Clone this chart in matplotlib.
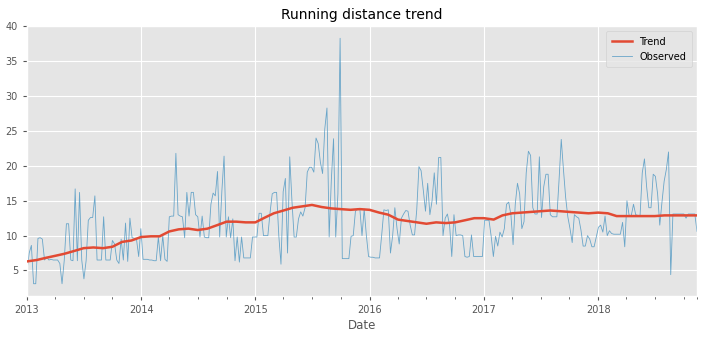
import numpy as np
import pandas as pd
import matplotlib
matplotlib.use('Agg')
import matplotlib.pyplot as plt
import matplotlib.dates as mdates

plt.style.use('ggplot')

# weekly observed distance, starting 2013-01-01
obs_2013 = [5.0, 7.5, 8.6, 3.1, 3.1, 9.6, 9.7, 9.5, 6.5, 6.9, 6.5, 6.6, 6.5, 6.5,
            6.5, 6.0, 3.1, 6.4, 11.7, 11.7, 6.5, 6.4, 16.7, 6.4, 16.2, 6.5, 3.8,
            6.4, 12.2, 12.6, 12.6, 15.7, 6.5, 6.5, 6.5, 12.7, 6.5, 6.5, 6.5, 9.3,
            8.8, 6.5, 6.0, 9.5, 6.5, 11.8, 6.3, 12.5, 9.7, 9.6, 9.5, 7.0]
obs_2014 = [11.0, 6.6, 6.6, 6.6, 6.5, 6.5, 6.4, 6.4, 9.8, 6.4, 10.0, 6.6, 6.3,
            12.7, 12.8, 12.8, 21.8, 13.0, 12.8, 12.7, 9.7, 16.2, 12.8, 16.2, 16.2,
            13.0, 12.7, 9.8, 12.8, 9.8, 9.7, 9.7, 14.5, 16.1, 15.7, 19.2, 9.8,
            16.4, 21.4, 9.8, 12.7, 9.7, 12.4, 6.4, 9.8, 6.2, 9.8, 6.8, 6.8, 6.8,
            6.8, 9.8]
obs_2015 = [9.8, 9.8, 13.2, 13.2, 10.0, 10.0, 10.0, 13.3, 16.0, 16.2, 16.2, 10.0,
            5.9, 16.3, 18.2, 7.5, 21.3, 15.0, 9.8, 9.8, 12.4, 13.4, 12.8, 14.0,
            19.1, 19.8, 19.8, 19.1, 24.0, 23.2, 20.5, 18.9, 25.3, 28.3, 9.8, 18.0,
            23.9, 9.8, 16.0, 38.3, 6.7, 6.7, 6.7, 6.7, 9.9, 10.0, 13.5, 13.9, 13.9,
            10.0, 13.8, 10.0]
obs_2016 = [7.0, 6.9, 6.9, 6.8, 6.8, 6.8, 10.1, 13.7, 13.6, 13.7, 7.5, 10.0, 14.0,
            11.0, 8.8, 12.5, 13.1, 13.6, 13.5, 11.5, 10.1, 10.1, 13.7, 19.9, 19.3,
            16.5, 13.5, 17.5, 13.0, 15.0, 19.0, 14.5, 21.2, 21.2, 10.0, 12.5, 13.1,
            11.5, 7.0, 13.0, 10.0, 10.1, 10.1, 10.0, 7.0, 6.9, 7.0, 10.1, 7.0, 7.0,
            7.0, 7.0, 7.0]
obs_2017 = [12.2, 12.2, 12.2, 9.9, 7.0, 9.9, 8.5, 10.5, 9.8, 11.0, 14.5, 14.8,
            13.0, 8.7, 14.5, 17.5, 16.0, 11.0, 12.0, 19.0, 22.1, 21.5, 14.0, 13.1,
            13.1, 21.3, 12.6, 17.0, 18.8, 18.8, 13.0, 12.7, 12.7, 12.7, 18.0, 23.8,
            19.5, 15.5, 12.7, 11.0, 9.0, 13.0, 12.7, 12.5, 10.8, 8.5, 8.5, 10.0,
            9.5, 8.4, 8.4, 9.8]
obs_2018 = [11.2, 11.5, 10.5, 12.8, 10.0, 10.7, 10.3, 10.2, 10.2, 10.2, 10.2,
            11.9, 8.4, 15.0, 12.9, 12.9, 14.5, 13.0, 12.9, 12.9, 19.0, 21.0, 17.0,
            14.0, 14.0, 18.8, 18.5, 16.0, 11.5, 14.8, 17.8, 19.5, 22.0, 4.4, 13.1,
            13.1, 13.1, 13.1, 13.1, 13.1, 12.5, 13.1, 13.1, 13.1, 13.1, 10.6]

# monthly trend values, 2013-01 .. 2018-11
trend_vals = [6.3, 6.5, 6.8, 7.1, 7.4, 7.8, 8.2, 8.3, 8.2, 8.4, 9.1, 9.3,
              9.8, 9.9, 9.9, 10.6, 10.9, 11.0, 10.8, 11.0, 11.5, 12.0, 12.0, 11.9,
              11.9, 12.6, 13.2, 13.6, 14.0, 14.2, 14.4, 14.1, 13.9, 13.8, 13.7, 13.8,
              13.7, 13.3, 13.0, 12.3, 12.1, 11.9, 11.7, 11.9, 11.8, 11.9, 12.2, 12.5,
              12.5, 12.3, 12.9, 13.2, 13.3, 13.4, 13.5, 13.6, 13.5, 13.4, 13.3, 13.2,
              13.3, 13.2, 12.8, 12.8, 12.8, 12.8, 12.8, 12.9, 12.9, 12.9, 12.9]
trend_end = 12.9

observed = obs_2013 + obs_2014 + obs_2015 + obs_2016 + obs_2017 + obs_2018
dates = pd.date_range('2013-01-01', periods=len(observed), freq='7D')
trend_dates = list(pd.date_range('2013-01-01', periods=len(trend_vals), freq='MS')) + [dates[-1]]
trend = trend_vals + [trend_end]

fig = plt.figure(figsize=(7.03, 3.37), dpi=100)
ax = fig.add_axes([27/703, 1 - 296/337, 670/703, 270/337])

ax.plot(trend_dates, trend, color='#E24A33', lw=1.8, label='Trend', zorder=3)
ax.plot(dates, observed, color='#348ABD', lw=0.6, alpha=0.7, label='Observed', zorder=2)

ax.set_xlim(dates[0], dates[-1])
ax.xaxis.set_major_locator(mdates.YearLocator())
ax.xaxis.set_major_formatter(mdates.DateFormatter('%Y'))
minor = [d for d in pd.date_range('2013-01-01', dates[-1], freq='QS') if d.month != 1]
ax.set_xticks(minor + [dates[-1]], minor=True)
ax.tick_params(axis='x', which='minor', length=2, color='#555555')
ax.tick_params(axis='both', which='major', labelsize=7, length=3)
ax.set_yticks([5, 10, 15, 20, 25, 30, 35, 40])

ax.set_title('Running distance trend', fontsize=10, pad=5)
ax.set_xlabel('Date', fontsize=8.5, labelpad=3)
ax.legend(loc='upper right', fontsize=7, borderpad=0.6)

fig.savefig('out.png', dpi=100)
